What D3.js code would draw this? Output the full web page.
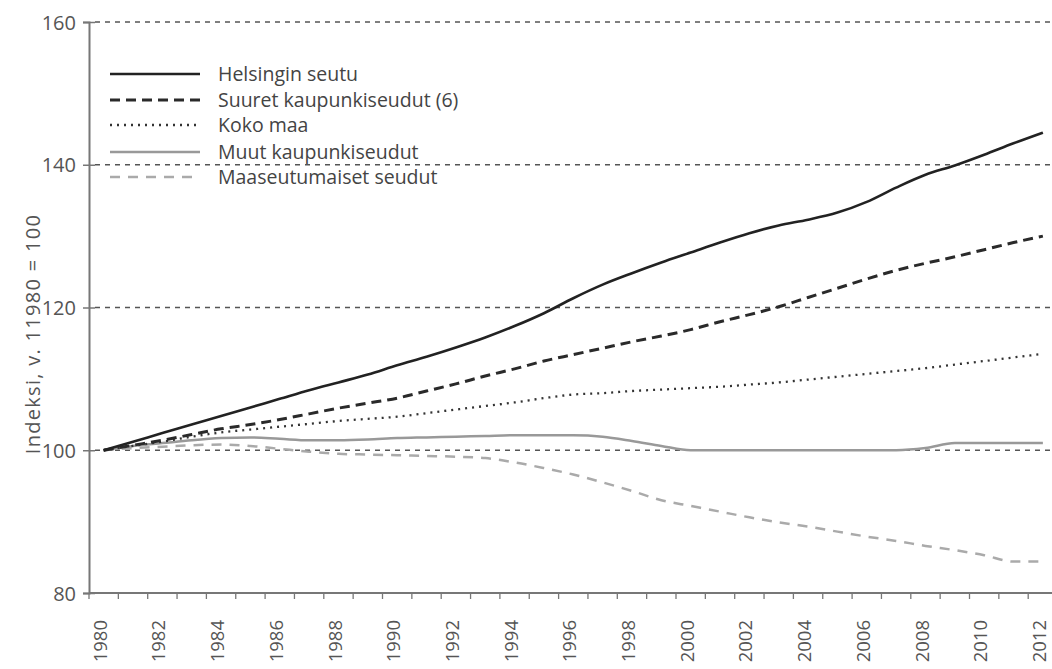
<!DOCTYPE html>
<html><head><meta charset="utf-8">
<script src="https://cdn.jsdelivr.net/npm/d3@7"></script>
<style>body{margin:0;background:#fff}svg{display:block}text{font-family:"Open Sans",sans-serif;fill:#555}</style>
</head><body><svg id="c" width="1052" height="669"></svg>
<script>
const years = d3.range(1980, 2013);
const yTicks = [80, 100, 120, 140, 160];
const xLabelYears = d3.range(1980, 2013, 2);
const seriesNames = ["Helsingin seutu","Suuret kaupunkiseudut (6)","Koko maa","Muut kaupunkiseudut","Maaseutumaiset seudut"];
const helsinki = [100,101.2,102.4,103.6,104.8,106.0,107.2,108.4,109.5,110.6,111.9,113.1,114.4,115.8,117.4,119.2,121.3,123.2,124.8,126.3,127.7,129.1,130.4,131.5,132.3,133.3,134.8,136.8,138.6,139.9,141.4,143.0,144.5];
const suuret = [100,100.7,101.4,102.2,103.0,103.6,104.3,105.1,105.9,106.6,107.3,108.3,109.3,110.4,111.4,112.5,113.4,114.3,115.2,116.0,116.9,118.0,119.0,120.1,121.4,122.7,124.0,125.2,126.2,127.1,128.1,129.1,130.0];
const kokoMaa = [100,100.6,101.2,101.9,102.5,102.9,103.3,103.7,104.1,104.4,104.7,105.2,105.7,106.2,106.7,107.3,107.8,108.0,108.3,108.5,108.7,108.9,109.2,109.5,109.9,110.3,110.7,111.1,111.5,112.0,112.5,113.0,113.5];
const muut = [100,100.6,101.0,101.4,101.7,101.8,101.6,101.4,101.4,101.5,101.7,101.8,101.9,102.0,102.1,102.1,102.1,101.9,101.3,100.6,100,100,100,100,100,100,100,100,100.3,101,101,101,101];
const maaseutu = [100,100.3,100.5,100.7,100.8,100.6,100.2,99.8,99.5,99.4,99.3,99.2,99.1,98.9,98.3,97.5,96.6,95.5,94.3,93.0,92.2,91.4,90.6,89.9,89.3,88.6,87.9,87.3,86.6,86.0,85.3,84.4,84.4];
const allSeries = [helsinki, suuret, kokoMaa, muut, maaseutu];
const styles = [
  {stroke:"#222", w:2.6, dash:null},
  {stroke:"#2a2a2a", w:3, dash:"10,6"},
  {stroke:"#333", w:2.3, dash:"2,5"},
  {stroke:"#999", w:2.5, dash:null},
  {stroke:"#aaa", w:2.5, dash:"10,8"}
];

const svg = d3.select("#c");
const x = d3.scaleBand().domain(years).range([89, 89 + 33 * 29.35]);
const xc = yr => x(yr) + x.bandwidth() / 2;
const y = d3.scaleLinear().domain([80, 160]).range([593, 22]);

// gridlines
svg.append("g").selectAll("line").data(yTicks.filter(t => t > 80)).join("line")
  .attr("x1", 95).attr("x2", 1052).attr("y1", d => y(d)).attr("y2", d => y(d))
  .attr("stroke", "#555").attr("stroke-width", 1.5).attr("stroke-dasharray", "5,5");

// y axis
const yAxis = svg.append("g").attr("transform", "translate(89,0)")
  .call(d3.axisLeft(y).tickValues(yTicks).tickSize(6).tickPadding(7));
yAxis.select(".domain").attr("stroke", "#777").attr("stroke-width", 2);
yAxis.selectAll(".tick line").attr("stroke", "#777").attr("stroke-width", 1.5).attr("x2", 6).attr("x1", -6);
yAxis.selectAll(".tick text").style("font-size", "20px").style("fill", "#555").attr("dy", "0.36em");

// x axis
const xAxis = svg.append("g").attr("transform", "translate(0,593)");
xAxis.append("line").attr("x1", 89).attr("x2", 1052).attr("stroke", "#777").attr("stroke-width", 2);
xAxis.selectAll("line.tk").data(years).join("line").attr("class", "tk")
  .attr("x1", d => x(d)).attr("x2", d => x(d)).attr("y1", 0).attr("y2", 6)
  .attr("stroke", "#777").attr("stroke-width", 1.3);
xAxis.selectAll("text").data(xLabelYears).join("text")
  .attr("transform", d => `translate(${xc(d) - 2.5},27) rotate(-90)`)
  .attr("text-anchor", "end").attr("dy", "0.3em")
  .style("font-size", "18.5px").text(d => d);

// y title
svg.append("text").attr("transform", "translate(33,334) rotate(-90)")
  .attr("text-anchor", "middle").attr("dy", "0.36em").style("font-size", "20px")
  .style("letter-spacing", "1.3px")
  .text("Indeksi, v. 11980 = 100");

// lines
const line = d3.line().x((d, i) => xc(years[i])).y(d => y(d)).curve(d3.curveMonotoneX);
const order = [4, 3, 2, 1, 0];
order.forEach(k => {
  const s = styles[k];
  svg.append("path").datum(allSeries[k]).attr("d", line)
    .attr("fill", "none").attr("stroke", s.stroke).attr("stroke-width", s.w)
    .attr("stroke-dasharray", s.dash);
});

// legend
const legendY = [74, 100, 125, 152, 177];
const lg = svg.append("g");
seriesNames.forEach((n, i) => {
  const s = styles[i];
  lg.append("line").attr("x1", 110).attr("x2", 200).attr("y1", legendY[i]).attr("y2", legendY[i])
    .attr("stroke", s.stroke).attr("stroke-width", s.w).attr("stroke-dasharray", s.dash);
  lg.append("text").attr("x", 218).attr("y", legendY[i]).attr("dy", "0.36em")
    .style("font-size", "19.5px").style("fill", "#444").text(n);
});
</script></body></html>
